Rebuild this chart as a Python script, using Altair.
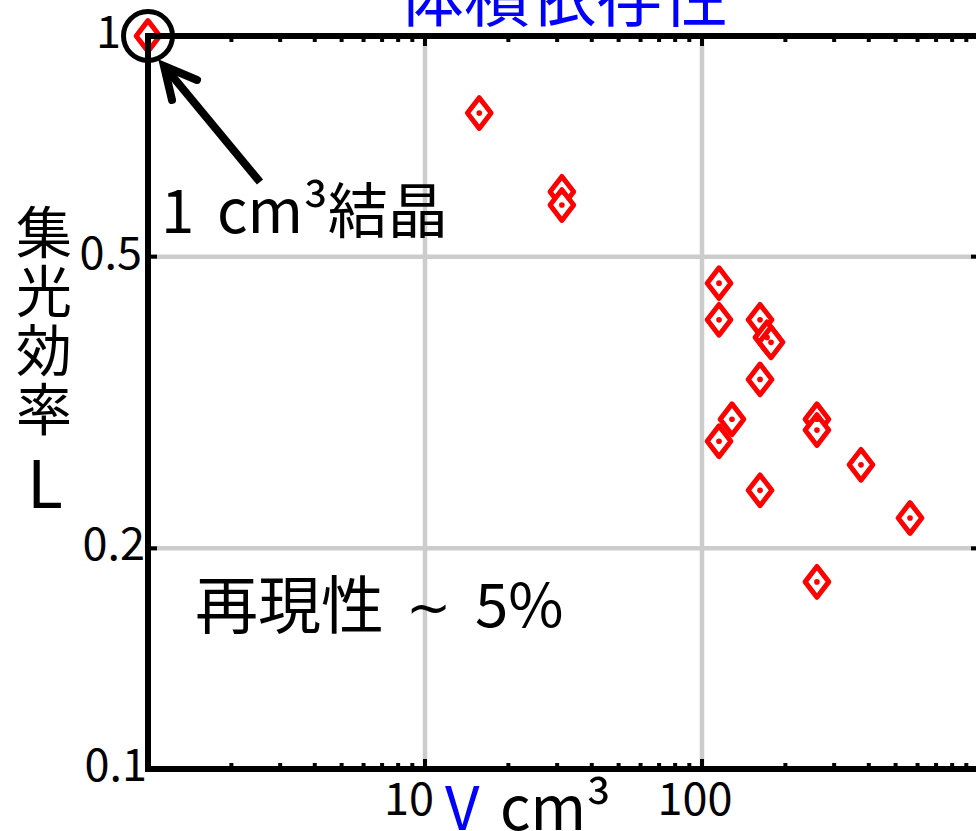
import altair as alt
import pandas as pd

FONT = "Noto Sans CJK JP"

# ---- data ----
volume_cm3 = [1, 15.7, 31.2, 31.2, 115.2, 115.2, 162, 171.7, 177.5, 162,
              128.3, 115.2, 260, 260, 375, 162, 563.6, 260]
efficiency_L = [1.0, 0.785, 0.613, 0.588, 0.460, 0.410, 0.410, 0.388, 0.382, 0.340,
                0.300, 0.280, 0.300, 0.290, 0.260, 0.240, 0.220, 0.180]

x_major = [10, 100]
x_major_labels = ["10", "100"]
x_minor = [2, 3, 4, 5, 6, 7, 8, 9, 20, 30, 40, 50, 60, 70, 80, 90,
           200, 300, 400, 500, 600, 700, 800, 900]
y_labels = [0.1, 0.2, 0.5, 1]
y_label_texts = ["0.1", "0.2", "0.5", "1"]
y_grid = [0.2, 0.5]

title_text = "体積依存性"
ylabel_lines = ["集", "光", "効", "率"]
ylabel_symbol = "L"
xlabel_symbol = "V"
xlabel_unit = "cm³"
note_crystal_num = "1"
note_crystal_rest = "cm³結晶"
note_repro_word = "再現性"
note_repro_tilde = "~"
note_repro_value = "5%"

# annotation geometry (data coordinates)
circle_at_V = [1]
circle_at_L = [1]
shaft_V = [2.537, 1.142]
shaft_L = [0.632, 0.910]
head_V = [1.503, 1.142, 1.221]
head_L = [0.871, 0.910, 0.818]

W, H = 828, 733

xscale = alt.Scale(type="log", domain=[1, 975.4], nice=False)
yscale = alt.Scale(type="log", domain=[0.1, 1], nice=False)


def X(field="V"):
    return alt.X(f"{field}:Q", scale=xscale, axis=None)


def Y(field="L"):
    return alt.Y(f"{field}:Q", scale=yscale, axis=None)


pts = pd.DataFrame({"V": volume_cm3, "L": efficiency_L})
one = pd.DataFrame({"a": [0]})
xmaj = pd.DataFrame({"V": x_major, "t": x_major_labels})
xmin = pd.DataFrame({"V": x_minor})
ylab = pd.DataFrame({"L": y_labels, "t": y_label_texts})
ygr = pd.DataFrame({"L": y_grid})

GRID = "#cccccc"
grid_x = alt.Chart(xmaj).mark_rule(color=GRID, strokeWidth=4.5).encode(
    x=X(), y=alt.value(0), y2=alt.value(H))
grid_y = alt.Chart(ygr).mark_rule(color=GRID, strokeWidth=4.5).encode(
    y=Y(), x=alt.value(0), x2=alt.value(W))

DIAMOND = "M0,-1.3L1,0L0,1.3L-1,0Z"
points = alt.Chart(pts).mark_point(
    shape=DIAMOND, filled=True, fill="white", stroke="#ff0000",
    strokeWidth=5, size=560, opacity=1, strokeJoin="round",
).encode(x=X(), y=Y())

dots = alt.Chart(pts).mark_circle(size=32, color="#ff0000", opacity=1).encode(
    x=X(), y=Y())

frame_kw = dict(color="black", strokeWidth=6, strokeCap="square")
frame_top = alt.Chart(one).mark_rule(**frame_kw).encode(
    x=alt.value(0), x2=alt.value(W + 3), y=alt.value(0))
frame_bottom = alt.Chart(one).mark_rule(**frame_kw).encode(
    x=alt.value(0), x2=alt.value(W + 3), y=alt.value(H))
frame_left = alt.Chart(one).mark_rule(**frame_kw).encode(
    x=alt.value(0), y=alt.value(0), y2=alt.value(H))

tick_kw = dict(color="black", strokeWidth=4)
ticks = []
for dfx, ln in ((xmaj, 10), (xmin, 6)):
    ticks.append(alt.Chart(dfx).mark_rule(**tick_kw).encode(
        x=X(), y=alt.value(0), y2=alt.value(ln)))
    ticks.append(alt.Chart(dfx).mark_rule(**tick_kw).encode(
        x=X(), y=alt.value(H - ln), y2=alt.value(H)))
ticks.append(alt.Chart(ygr).mark_rule(**tick_kw).encode(
    y=Y(), x=alt.value(0), x2=alt.value(9)))
ticks.append(alt.Chart(ygr).mark_rule(**tick_kw).encode(
    y=Y(), x=alt.value(W - 5), x2=alt.value(W)))

# tick labels (placed through the scales)
TICK_FS = 45
tick_labels = []
x_label_dx = {"10": -16, "100": -7}
for t, dx in x_label_dx.items():
    tick_labels.append(
        alt.Chart(xmaj).transform_filter(alt.datum.t == t).mark_text(
            font=FONT, fontSize=TICK_FS, color="black", align="center",
            baseline="top", dx=dx,
        ).encode(x=X(), y=alt.value(H + 10), text="t:N"))
y_label_dx = {"0.1": 0, "0.2": -2, "0.5": -5, "1": -26}
for t, dx in y_label_dx.items():
    tick_labels.append(
        alt.Chart(ylab).transform_filter(alt.datum.t == t).mark_text(
            font=FONT, fontSize=TICK_FS, color="black", align="right",
            baseline="middle", dx=dx, dy=-2,
        ).encode(y=Y(), x=alt.value(-1), text="t:N"))

circ = alt.Chart(pd.DataFrame({"V": circle_at_V, "L": circle_at_L})).mark_point(
    shape="circle", filled=False, stroke="black", strokeWidth=5, size=2400, opacity=1,
).encode(x=X(), y=Y())

shaft = alt.Chart(pd.DataFrame({"V": [shaft_V[0]], "V2": [shaft_V[1]],
                                "L": [shaft_L[0]], "L2": [shaft_L[1]]})).mark_rule(
    color="black", strokeWidth=8, strokeCap="butt").encode(
    x=X(), x2="V2:Q", y=Y(), y2="L2:Q")

head = alt.Chart(pd.DataFrame({"V": head_V, "L": head_L, "o": [0, 1, 2]})).mark_line(
    color="black", strokeWidth=8, strokeJoin="miter", strokeCap="round").encode(
    x=X(), y=Y(), order="o:Q")


def label(text, x, y, size, color="black", align="left", baseline="alphabetic",
          font=FONT, **kw):
    return alt.Chart(one).mark_text(
        text=text, font=font, fontSize=size, color=color, align=align,
        baseline=baseline, **kw
    ).encode(x=alt.value(x), y=alt.value(y))


texts = [
    label(title_text, 415, -15, 66, color="#0000ff", align="center"),
    label(ylabel_lines, -104, 200, 56, align="center", baseline="middle", lineHeight=59),
    label(ylabel_symbol, -103, 452, 66, align="center", baseline="middle"),
    label(xlabel_symbol, 297, 794, 60, color="#0000ff"),
    label(xlabel_unit, 352, 794, 60),
    label(note_crystal_num, 13, 197, 60),
    label(note_crystal_rest, 69, 197, 60),
    label(note_repro_word, 47, 592, 63),
    label(note_repro_tilde, 258, 590, 54, font="DejaVu Sans"),
    label(note_repro_value, 327, 591, 60),
]

chart = alt.layer(
    grid_x, grid_y, points, dots, *ticks, frame_top, frame_bottom, frame_left,
    circ, shaft, head, *tick_labels, *texts,
).properties(
    width=W, height=H, autosize="none",
    padding={"left": 148, "top": 36, "right": 0, "bottom": 62},
    background="white",
).configure_view(stroke=None)

chart.save("out.html", embed_options={"renderer": "svg", "actions": False})
